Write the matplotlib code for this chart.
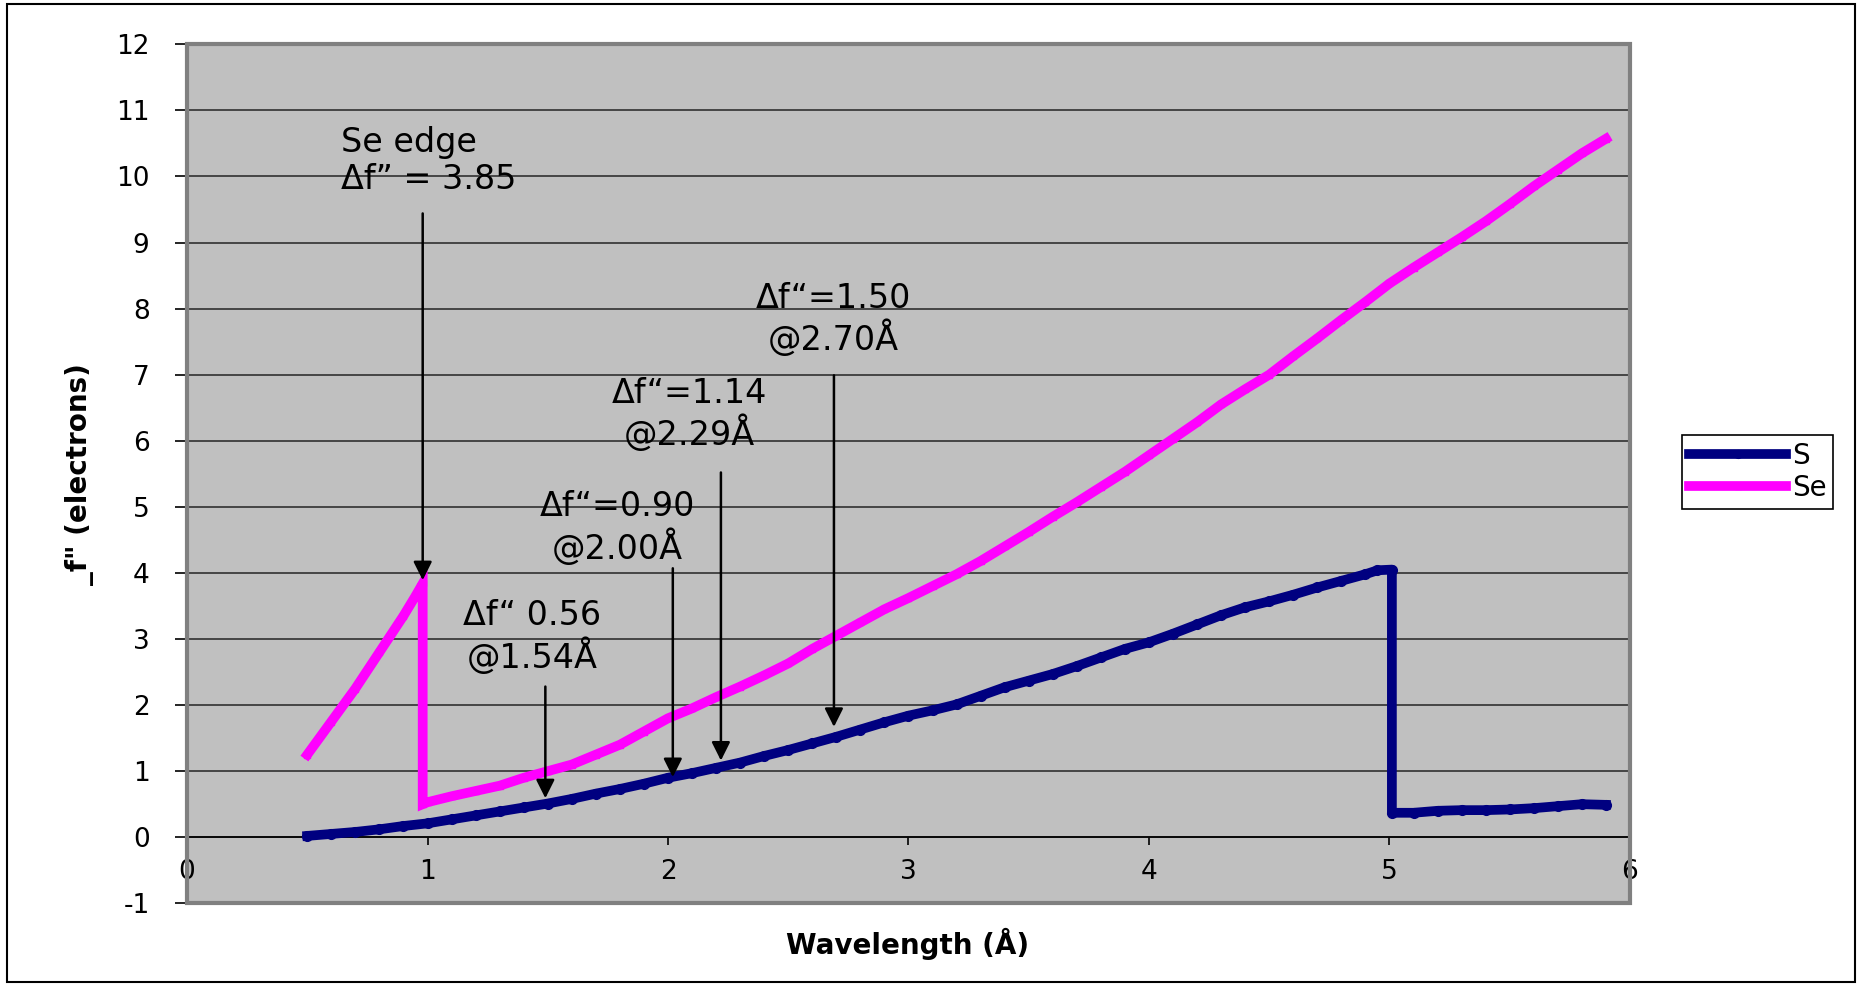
import matplotlib.pyplot as plt
from matplotlib.patches import Rectangle

plt.rcParams["axes.unicode_minus"] = False

# Anomalous scattering f'' of S and Se against wavelength
s_wavelength = [0.50, 0.60, 0.70, 0.80, 0.90, 1.00, 1.10, 1.20, 1.30, 1.40,
                1.50, 1.60, 1.70, 1.80, 1.90, 2.00, 2.10, 2.20, 2.30, 2.40,
                2.50, 2.60, 2.70, 2.80, 2.90, 3.00, 3.10, 3.20, 3.30, 3.40,
                3.50, 3.60, 3.70, 3.80, 3.90, 4.00, 4.10, 4.20, 4.30, 4.40,
                4.50, 4.60, 4.70, 4.80, 4.90, 4.95, 5.01, 5.01, 5.10, 5.20,
                5.30, 5.40, 5.50, 5.60, 5.70, 5.80, 5.90]
s_fpp = [0.02, 0.05, 0.08, 0.12, 0.17, 0.21, 0.27, 0.33, 0.39, 0.45,
         0.51, 0.58, 0.66, 0.73, 0.81, 0.90, 0.97, 1.05, 1.13, 1.23,
         1.32, 1.42, 1.52, 1.63, 1.74, 1.84, 1.92, 2.01, 2.14, 2.27,
         2.37, 2.47, 2.59, 2.72, 2.85, 2.95, 3.08, 3.22, 3.36, 3.48,
         3.57, 3.67, 3.78, 3.88, 3.98, 4.04, 4.05, 0.37, 0.37, 0.40,
         0.41, 0.41, 0.42, 0.44, 0.47, 0.50, 0.49]

se_wavelength = [0.50, 0.60, 0.70, 0.80, 0.90, 0.95, 0.98, 0.98, 1.00, 1.10,
                 1.20, 1.30, 1.40, 1.50, 1.60, 1.70, 1.80, 1.90, 2.00, 2.10,
                 2.20, 2.30, 2.40, 2.50, 2.60, 2.70, 2.80, 2.90, 3.00, 3.10,
                 3.20, 3.30, 3.40, 3.50, 3.60, 3.70, 3.80, 3.90, 4.00, 4.10,
                 4.20, 4.30, 4.40, 4.50, 4.60, 4.70, 4.80, 4.90, 5.00, 5.10,
                 5.20, 5.30, 5.40, 5.50, 5.60, 5.70, 5.80, 5.90]
se_fpp = [1.25, 1.75, 2.25, 2.80, 3.35, 3.65, 3.84, 0.50, 0.53, 0.62,
          0.70, 0.78, 0.90, 1.00, 1.10, 1.25, 1.40, 1.60, 1.80, 1.95,
          2.12, 2.28, 2.45, 2.63, 2.85, 3.05, 3.25, 3.45, 3.62, 3.80,
          3.98, 4.18, 4.40, 4.62, 4.85, 5.07, 5.30, 5.53, 5.78, 6.03,
          6.28, 6.55, 6.78, 7.00, 7.28, 7.55, 7.83, 8.10, 8.38, 8.62,
          8.85, 9.08, 9.32, 9.58, 9.85, 10.10, 10.35, 10.57]

# Annotations: label text, text anchor, arrow tail and tip (x, y)
notes = ["Se edge\n\u0394f\u201d = 3.85",
         "\u0394f\u201c=1.50\n@2.70\u00c5",
         "\u0394f\u201c=1.14\n@2.29\u00c5",
         "\u0394f\u201c=0.90\n@2.00\u00c5",
         "\u0394f\u201c 0.56\n@1.54\u00c5"]
note_xy = [(0.64, 10.23), (2.687, 7.83), (2.09, 6.40), (1.79, 4.68), (1.435, 3.03)]
note_ha = ["left", "center", "center", "center", "center"]
arrow_x = [0.98, 2.69, 2.22, 2.02, 1.49]
arrow_tail = [9.44, 6.99, 5.52, 4.07, 2.28]
arrow_tip = [3.89, 1.67, 1.16, 0.91, 0.59]

fig = plt.figure(figsize=(18.59, 9.84), dpi=100)
ax = fig.add_axes([0.1006, 0.082, 0.7762, 0.873])
ax.set_facecolor("#c0c0c0")

ax.plot(s_wavelength, s_fpp, color="#000080", lw=7, marker="o", ms=7,
        solid_joinstyle="round", label="S", zorder=3)
ax.plot(se_wavelength, se_fpp, color="#ff00ff", lw=7, marker="s", ms=5,
        solid_joinstyle="miter", label="Se", zorder=3)

ax.set_xlim(0, 6)
ax.set_ylim(-1, 12)
ax.set_yticks(range(-1, 13))
ax.set_xticks(range(0, 7))
ax.yaxis.grid(True, color="#303030", lw=1.2)
ax.set_axisbelow(True)

# x axis crosses at y = 0 like in the spreadsheet chart
ax.spines["bottom"].set_position(("data", 0))
ax.spines["bottom"].set_color("black")
ax.spines["bottom"].set_linewidth(1.2)
ax.spines["left"].set_color("black")
ax.spines["left"].set_linewidth(1.2)
for side in ["top", "right"]:
    ax.spines[side].set_visible(False)
ax.add_patch(Rectangle((0, 0), 1, 1, transform=ax.transAxes, fill=False,
                       edgecolor="#808080", lw=3, zorder=5, clip_on=False))

ax.tick_params(axis="y", direction="out", length=9, width=1.2, pad=18,
               labelsize=19, colors="black")
ax.tick_params(axis="x", direction="out", length=6, width=1.2, pad=10,
               labelsize=19, colors="black")

for txt, xy, ha in zip(notes, note_xy, note_ha):
    ax.text(xy[0], xy[1], txt, ha=ha, va="center", fontsize=24,
            linespacing=1.15, family="DejaVu Sans", zorder=6)
for x, y0, y1 in zip(arrow_x, arrow_tail, arrow_tip):
    ax.annotate("", xy=(x, y1), xytext=(x, y0),
                arrowprops=dict(arrowstyle="-|>", color="black", lw=1.8,
                                mutation_scale=28, shrinkA=0, shrinkB=0),
                zorder=6)

fig.text(908 / 1859, 1 - 944 / 984, "Wavelength (\u00c5)", ha="center",
         va="center", fontsize=20, fontweight="bold")
fig.text(80 / 1859, 1 - 474 / 984, "_f\" (electrons)", ha="center",
         va="center", rotation=90, fontsize=20, fontweight="bold")

leg = fig.legend(loc="center left", bbox_to_anchor=(1682 / 1859, 1 - 472 / 984),
                 fontsize=20, handlelength=3.5, handletextpad=0.2,
                 borderpad=0.25, borderaxespad=0, labelspacing=0.15,
                 fancybox=False, framealpha=1, edgecolor="black",
                 markerscale=0.8)
leg.get_frame().set_linewidth(1.2)

# outer chart border
fig.add_artist(Rectangle((0.004, 0.002), 0.994, 0.994, transform=fig.transFigure,
                         fill=False, edgecolor="black", lw=1.5))

fig.savefig("out.png", dpi=100)
